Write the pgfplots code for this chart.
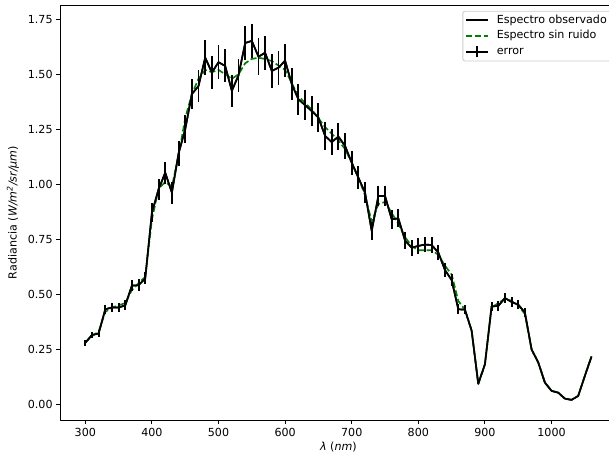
\documentclass[border=0pt]{standalone}
\usepackage{fontspec}
\setmainfont{DejaVu Sans}
\usepackage{pgfplots}
\usepackage{pgfplotstable}
\pgfplotsset{compat=1.18}

\newcommand\mplfont{\fontsize{11.1}{13.3}\selectfont}
\definecolor{mplgreen}{RGB}{0,128,0}
\definecolor{legendedge}{RGB}{204,204,204}

\pgfplotsset{
  solid legend/.style={
    legend image code/.code={%
      \draw[black, line width=1.9pt] (0pt,0pt) -- (22pt,0pt);}},
  dashed legend/.style={
    legend image code/.code={%
      \draw[mplgreen, line width=1.67pt, dash pattern=on 6.17pt off 2.67pt] (0pt,0pt) -- (22pt,0pt);}},
  errorbar legend/.style={
    legend image code/.code={%
      \draw[black, line width=1.67pt] (0pt,0pt) -- (22pt,0pt);
      \draw[black, line width=1.9pt] (11pt,-5.5pt) -- (11pt,5.5pt);}},
}

% wavelength, observed radiance, noiseless radiance, 1-sigma error
\pgfplotstableread{
x obs clean err
300 0.280 0.280 0.014
310 0.315 0.310 0.015
320 0.322 0.330 0.016
330 0.432 0.420 0.021
340 0.440 0.440 0.022
350 0.440 0.450 0.022
360 0.450 0.460 0.023
370 0.540 0.520 0.026
380 0.541 0.550 0.027
390 0.573 0.580 0.028
400 0.871 0.840 0.042
410 0.977 0.980 0.048
420 1.053 1.010 0.050
430 0.962 0.990 0.050
440 1.140 1.130 0.056
450 1.250 1.300 0.064
460 1.410 1.410 0.070
470 1.447 1.480 0.074
480 1.576 1.520 0.080
490 1.508 1.510 0.075
500 1.555 1.520 0.076
510 1.538 1.500 0.075
520 1.425 1.480 0.074
530 1.495 1.500 0.075
540 1.642 1.550 0.078
550 1.652 1.570 0.078
560 1.580 1.575 0.085
570 1.598 1.570 0.078
580 1.515 1.560 0.078
590 1.530 1.540 0.077
600 1.562 1.520 0.076
610 1.455 1.460 0.073
620 1.386 1.400 0.070
630 1.360 1.370 0.068
640 1.333 1.340 0.067
650 1.303 1.300 0.065
660 1.220 1.260 0.063
670 1.192 1.230 0.061
680 1.217 1.200 0.060
690 1.174 1.160 0.058
700 1.098 1.100 0.055
710 1.030 1.030 0.052
720 0.962 0.950 0.048
730 0.788 0.830 0.042
740 0.947 0.910 0.046
750 0.947 0.920 0.046
760 0.841 0.870 0.043
770 0.845 0.820 0.041
780 0.745 0.760 0.038
790 0.712 0.720 0.036
800 0.720 0.700 0.035
810 0.726 0.700 0.035
820 0.724 0.700 0.035
830 0.690 0.680 0.034
840 0.610 0.630 0.031
850 0.565 0.590 0.029
860 0.432 0.470 0.023
870 0.430 0.430 0.021
880 0.335 0.335 0
890 0.093 0.093 0
900 0.182 0.182 0
910 0.445 0.440 0.022
920 0.447 0.460 0.023
930 0.483 0.480 0.024
940 0.465 0.470 0.023
950 0.453 0.450 0.022
960 0.417 0.410 0.020
970 0.250 0.250 0
980 0.190 0.190 0
990 0.099 0.099 0
1000 0.061 0.061 0
1010 0.053 0.053 0
1020 0.026 0.026 0
1030 0.020 0.020 0
1040 0.038 0.038 0
1050 0.129 0.129 0
1060 0.217 0.217 0
}\spectrum

\begin{document}
\begin{tikzpicture}
\begin{axis}[
  scale only axis,
  width=556.8pt, height=415pt,
  xmin=262, xmax=1098, ymin=-0.0714, ymax=1.815,
  xtick={300,400,...,1000},
  ytick={0,0.25,0.5,0.75,1,1.25,1.5,1.75},
  tick align=outside, tick pos=left,
  major tick length=3.9pt,
  every tick/.style={black, line width=0.89pt},
  axis line style={line width=0.89pt},
  /pgf/number format/assume math mode=true,
  /pgf/number format/1000 sep={},
  tick label style={font=\mplfont},
  xticklabel style={yshift=-0.6pt},
  yticklabel style={/pgf/number format/fixed,
                    /pgf/number format/fixed zerofill,
                    /pgf/number format/precision=2},
  xlabel={\textit{λ} (\textit{nm})},
  ylabel={Radiancia (\textit{W/m\textsuperscript{2}/sr/μm})},
  xlabel style={font=\mplfont, at={(axis description cs:0.5,0)}, anchor=center, yshift=-27.5pt},
  ylabel style={font=\mplfont, at={(axis description cs:-0.0844,0.5)}, anchor=center},
  legend style={
    at={(0.99,0.986)}, anchor=north east,
    draw=legendedge, line width=0.9pt, rounded corners=2pt,
    fill=white, fill opacity=0.8, text opacity=1,
    font=\mplfont,
    inner xsep=2pt, inner ysep=1.5pt,
    row sep=0.4pt, column sep=6pt,
    nodes={inner sep=2pt, text height=8.5pt, text depth=2.8pt},
  },
  legend cell align=left,
  line join=round,
]
\addplot[black, line width=1.67pt, solid legend]
  table[x=x, y=obs] {\spectrum};
\addlegendentry{Espectro observado}

\addplot[mplgreen, line width=1.67pt, dash pattern=on 6.17pt off 2.67pt, dashed legend]
  table[x=x, y=clean] {\spectrum};
\addlegendentry{Espectro sin ruido}

\addplot[black, line width=1.67pt, errorbar legend,
  error bars/.cd, y dir=both, y explicit, error mark=none,
  error bar style={line width=1.9pt, black, line cap=butt}]
  table[x=x, y=obs, y error=err] {\spectrum};
\addlegendentry{error}
\end{axis}
\pgfresetboundingbox
\useasboundingbox (-60pt,-36pt) rectangle (549pt,420pt);
\end{tikzpicture}
\end{document}
